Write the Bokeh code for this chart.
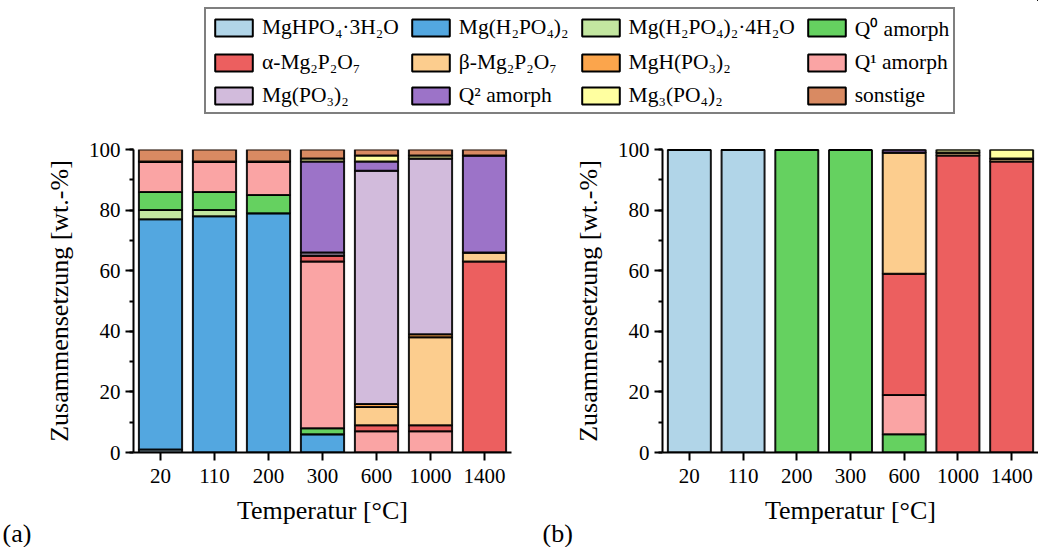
from bokeh.plotting import figure
from bokeh.models import (ColumnDataSource, FactorRange, Range1d, Legend, LegendItem,
                          SingleIntervalTicker, Title)
from bokeh.layouts import column, row
from bokeh.embed import file_html
from bokeh.resources import INLINE

# ---------------- data ----------------
temperatures = ["20", "110", "200", "300", "600", "1000", "1400"]

phases = ["MgHPO₄·3H₂O", "Mg(H₂PO₄)₂", "Mg(H₂PO₄)₂·4H₂O", "Q⁰ amorph",
          "α-Mg₂P₂O₇", "β-Mg₂P₂O₇", "MgH(PO₃)₂", "Q¹ amorph",
          "Mg(PO₃)₂", "Q² amorph", "Mg₃(PO₄)₂", "sonstige"]

colors = ["#B1D5E8", "#53A7E0", "#C3E6A0", "#65D160",
          "#EC5F5F", "#FCCD8E", "#FBA54C", "#FAA4A4",
          "#D2BBDC", "#9C73C8", "#FFFFA0", "#D98A62"]

# stacking order (bottom -> top)
stack_order = ["MgHPO₄·3H₂O", "Mg(H₂PO₄)₂", "Mg(H₂PO₄)₂·4H₂O", "Q⁰ amorph",
               "Q¹ amorph", "α-Mg₂P₂O₇", "β-Mg₂P₂O₇", "MgH(PO₃)₂",
               "Mg(PO₃)₂", "Q² amorph", "Mg₃(PO₄)₂", "sonstige"]

# panel (a)            20   110  200  300  600 1000 1400
a_MgHPO4_3H2O      = [1,   0,   0,   0,   0,   0,   0]
a_MgH2PO4_2        = [76,  78,  79,  6,   0,   0,   0]
a_MgH2PO4_2_4H2O   = [3,   2,   0,   0,   0,   0,   0]
a_Q0               = [6,   6,   6,   2,   0,   0,   0]
a_Q1               = [10,  10,  11,  55,  7,   7,   0]
a_alpha            = [0,   0,   0,   2,   2,   2,   63]
a_beta             = [0,   0,   0,   0,   6,   29,  3]
a_MgH_PO3_2        = [0,   0,   0,   0,   1,   1,   0]
a_Mg_PO3_2         = [0,   0,   0,   1,   77,  58,  0]
a_Q2               = [0,   0,   0,   30,  3,   0,   32]
a_Mg3_PO4_2        = [0,   0,   0,   1,   2,   1,   0]
a_sonstige         = [4,   4,   4,   3,   2,   2,   2]

# panel (b)            20   110  200  300  600 1000 1400
b_MgHPO4_3H2O      = [100, 100, 0,   0,   0,   0,   0]
b_MgH2PO4_2        = [0,   0,   0,   0,   0,   0,   0]
b_MgH2PO4_2_4H2O   = [0,   0,   0,   0,   0,   0,   0]
b_Q0               = [0,   0,   100, 100, 6,   0,   0]
b_Q1               = [0,   0,   0,   0,   13,  0,   0]
b_alpha            = [0,   0,   0,   0,   40,  98,  96]
b_beta             = [0,   0,   0,   0,   40,  1,   1]
b_MgH_PO3_2        = [0,   0,   0,   0,   0,   0,   0]
b_Mg_PO3_2         = [0,   0,   0,   0,   0,   0,   0]
b_Q2               = [0,   0,   0,   0,   1,   0,   0]
b_Mg3_PO4_2        = [0,   0,   0,   0,   0,   1,   3]
b_sonstige         = [0,   0,   0,   0,   0,   0,   0]

panel_letters = ["(a)", "(b)"]

a_data = {
    "MgHPO₄·3H₂O": a_MgHPO4_3H2O, "Mg(H₂PO₄)₂": a_MgH2PO4_2,
    "Mg(H₂PO₄)₂·4H₂O": a_MgH2PO4_2_4H2O, "Q⁰ amorph": a_Q0,
    "α-Mg₂P₂O₇": a_alpha, "β-Mg₂P₂O₇": a_beta, "MgH(PO₃)₂": a_MgH_PO3_2,
    "Q¹ amorph": a_Q1, "Mg(PO₃)₂": a_Mg_PO3_2, "Q² amorph": a_Q2,
    "Mg₃(PO₄)₂": a_Mg3_PO4_2, "sonstige": a_sonstige,
}
b_data = {
    "MgHPO₄·3H₂O": b_MgHPO4_3H2O, "Mg(H₂PO₄)₂": b_MgH2PO4_2,
    "Mg(H₂PO₄)₂·4H₂O": b_MgH2PO4_2_4H2O, "Q⁰ amorph": b_Q0,
    "α-Mg₂P₂O₇": b_alpha, "β-Mg₂P₂O₇": b_beta, "MgH(PO₃)₂": b_MgH_PO3_2,
    "Q¹ amorph": b_Q1, "Mg(PO₃)₂": b_Mg_PO3_2, "Q² amorph": b_Q2,
    "Mg₃(PO₄)₂": b_Mg3_PO4_2, "sonstige": b_sonstige,
}

color_of = dict(zip(phases, colors))
FONT = "Liberation Serif"


def make_panel(data, letter, width, left, right):
    src = dict(cat=temperatures)
    src.update(data)
    source = ColumnDataSource(src)
    p = figure(x_range=FactorRange(*temperatures, range_padding=0),
               y_range=Range1d(0, 100),
               width=width, height=422, toolbar_location=None,
               output_backend="svg", min_border_left=left, min_border_right=right,
               min_border_top=24, min_border_bottom=95)
    p.vbar_stack(stack_order, x="cat", width=0.8, source=source,
                 fill_color=[color_of[s] for s in stack_order],
                 line_color="black", line_width=2, line_alpha=0.9)
    p.xgrid.visible = False
    p.ygrid.visible = False
    p.outline_line_color = None
    p.yaxis.ticker = SingleIntervalTicker(interval=20, num_minor_ticks=2)
    for ax in (p.xaxis[0], p.yaxis[0]):
        ax.axis_line_width = 2
        ax.major_tick_line_width = 2
        ax.minor_tick_line_width = 2
        ax.major_tick_in = 0
        ax.major_tick_out = 8
        ax.minor_tick_in = 0
        ax.minor_tick_out = 4
        ax.major_label_text_font = FONT
        ax.major_label_text_font_size = "21px"
        ax.major_label_text_color = "black"
        ax.axis_label_text_font = FONT
        ax.axis_label_text_font_size = "26px"
        ax.axis_label_text_font_style = "normal"
        ax.axis_label_text_color = "black"
    p.xaxis.axis_label = "Temperatur [°C]"
    p.yaxis.axis_label = "Zusammensetzung [wt.-%]"
    p.xaxis.major_label_standoff = 8
    p.yaxis.major_label_standoff = 5
    p.xaxis.axis_label_standoff = 10
    p.yaxis.axis_label_standoff = 12
    p.add_layout(Title(text=letter, align="left", offset=-(left - 2), standoff=-22,
                       text_font=FONT, text_font_size="26px", text_font_style="normal",
                       text_color="black"), "below")
    return p


p1 = make_panel(a_data, panel_letters[0], 540, 133, 29)
p2 = make_panel(b_data, panel_letters[1], 498, 122, 0)

# legend figure (legend swatches come from renderers placed outside the visible range)
leg_fig = figure(width=1038, height=125, x_range=Range1d(0, 1), y_range=Range1d(0, 1),
                 toolbar_location=None, output_backend="svg",
                 x_axis_location=None, y_axis_location=None, min_border=0)
leg_fig.xgrid.visible = False
leg_fig.ygrid.visible = False
leg_fig.outline_line_color = None
items = []
for name, c in zip(phases, colors):
    r = leg_fig.vbar(x=[5], top=[6], bottom=[5], width=0.5, fill_color=c,
                     line_color="black", line_width=2)
    items.append(LegendItem(label=name, renderers=[r]))
legend = Legend(items=items, ncols=4, orientation="horizontal",
                location=(204, 11),
                glyph_width=47, glyph_height=21, label_standoff=5,
                spacing=8, padding=4, margin=0,
                label_text_font=FONT, label_text_font_size="21.5px",
                label_text_color="black",
                border_line_color="black", border_line_width=2,
                background_fill_alpha=1)
leg_fig.add_layout(legend)

layout = column(leg_fig, row(p1, p2, spacing=0), spacing=0)
open("out.html", "w").write(file_html(layout, INLINE))
